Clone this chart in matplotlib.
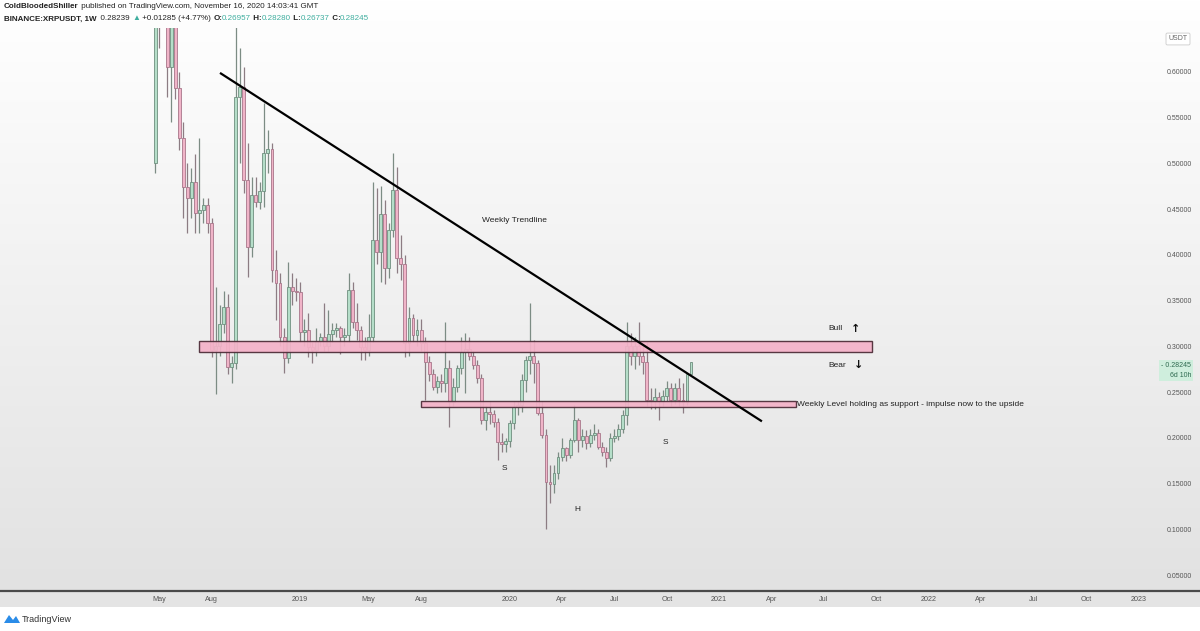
import numpy as np
import matplotlib
matplotlib.use("Agg")
import matplotlib.pyplot as plt
import matplotlib.transforms as mtransforms
from matplotlib.patches import Rectangle, Polygon

plt.rcParams['font.family'] = ['Liberation Sans', 'DejaVu Sans']

# weekly XRP/USDT candles, week of 2018-04-30 .. 2020-11-16
opens = [0.50, 0.72, 0.68, 0.67, 0.605, 0.66, 0.583, 0.528, 0.474, 0.462,
         0.48, 0.446, 0.449, 0.455, 0.435, 0.296, 0.300, 0.324, 0.343, 0.277,
         0.282, 0.573, 0.584, 0.482, 0.409, 0.465, 0.458, 0.470, 0.511, 0.516,
         0.383, 0.369, 0.310, 0.287, 0.365, 0.360, 0.359, 0.316, 0.318, 0.299,
         0.296, 0.306, 0.310, 0.300, 0.314, 0.318, 0.320, 0.310, 0.312, 0.362,
         0.327, 0.318, 0.299, 0.296, 0.310, 0.416, 0.403, 0.445, 0.386, 0.427,
         0.471, 0.397, 0.390, 0.304, 0.331, 0.312, 0.318, 0.304, 0.283, 0.270,
         0.256, 0.262, 0.260, 0.276, 0.239, 0.256, 0.276, 0.294, 0.297, 0.290,
         0.280, 0.265, 0.219, 0.228, 0.226, 0.217, 0.195, 0.193, 0.196, 0.216,
         0.234, 0.236, 0.263, 0.285, 0.290, 0.282, 0.227, 0.203, 0.152, 0.149,
         0.162, 0.179, 0.189, 0.181, 0.198, 0.219, 0.198, 0.202, 0.194, 0.203,
         0.205, 0.190, 0.184, 0.178, 0.200, 0.202, 0.210, 0.225, 0.300, 0.290,
         0.300, 0.290, 0.283, 0.241, 0.240, 0.245, 0.240, 0.246, 0.254, 0.241,
         0.254, 0.241, 0.239, 0.26957]
closes = [0.72, 0.68, 0.67, 0.605, 0.66, 0.583, 0.528, 0.474, 0.462, 0.48,
          0.446, 0.449, 0.455, 0.435, 0.296, 0.300, 0.324, 0.343, 0.277, 0.282,
          0.573, 0.584, 0.482, 0.409, 0.465, 0.458, 0.470, 0.511, 0.516, 0.383,
          0.369, 0.310, 0.287, 0.365, 0.360, 0.359, 0.316, 0.318, 0.299, 0.296,
          0.306, 0.310, 0.300, 0.314, 0.318, 0.320, 0.310, 0.312, 0.362, 0.327,
          0.318, 0.299, 0.296, 0.310, 0.416, 0.403, 0.445, 0.386, 0.427, 0.471,
          0.397, 0.390, 0.304, 0.331, 0.312, 0.318, 0.304, 0.283, 0.270, 0.256,
          0.262, 0.260, 0.276, 0.239, 0.256, 0.276, 0.294, 0.297, 0.290, 0.280,
          0.265, 0.219, 0.228, 0.226, 0.217, 0.195, 0.193, 0.196, 0.216, 0.234,
          0.236, 0.263, 0.285, 0.290, 0.282, 0.227, 0.203, 0.152, 0.149, 0.162,
          0.179, 0.189, 0.181, 0.198, 0.219, 0.198, 0.202, 0.194, 0.203, 0.205,
          0.190, 0.184, 0.178, 0.200, 0.202, 0.210, 0.225, 0.300, 0.290, 0.300,
          0.290, 0.283, 0.241, 0.240, 0.245, 0.240, 0.246, 0.254, 0.241, 0.254,
          0.241, 0.239, 0.26957, 0.28245]
highs = [0.80, 0.78, 0.72, 0.69, 0.68, 0.68, 0.60, 0.545, 0.50, 0.495,
         0.51, 0.528, 0.462, 0.462, 0.44, 0.365, 0.345, 0.36, 0.357, 0.29,
         0.78, 0.626, 0.605, 0.522, 0.485, 0.485, 0.48, 0.566, 0.537, 0.522,
         0.405, 0.38, 0.32, 0.392, 0.38, 0.375, 0.37, 0.33, 0.336, 0.305,
         0.32, 0.315, 0.347, 0.34, 0.325, 0.325, 0.322, 0.32, 0.38, 0.37,
         0.347, 0.322, 0.31, 0.335, 0.48, 0.473, 0.475, 0.46, 0.435, 0.511,
         0.496, 0.422, 0.40, 0.343, 0.335, 0.33, 0.33, 0.31, 0.29, 0.275,
         0.268, 0.27, 0.327, 0.285, 0.265, 0.28, 0.31, 0.315, 0.31, 0.295,
         0.285, 0.27, 0.235, 0.24, 0.23, 0.222, 0.205, 0.20, 0.22, 0.24,
         0.24, 0.27, 0.29, 0.347, 0.307, 0.285, 0.24, 0.21, 0.17, 0.17,
         0.185, 0.20, 0.19, 0.20, 0.236, 0.222, 0.21, 0.208, 0.21, 0.215,
         0.21, 0.195, 0.19, 0.205, 0.21, 0.215, 0.23, 0.327, 0.315, 0.31,
         0.327, 0.30, 0.305, 0.255, 0.255, 0.25, 0.252, 0.262, 0.26, 0.26,
         0.265, 0.26, 0.27, 0.2828]
lows = [0.49, 0.626, 0.655, 0.573, 0.545, 0.57, 0.515, 0.44, 0.424, 0.44,
        0.424, 0.424, 0.435, 0.424, 0.288, 0.248, 0.29, 0.315, 0.27, 0.26,
        0.275, 0.50, 0.468, 0.376, 0.398, 0.452, 0.45, 0.452, 0.49, 0.37,
        0.329, 0.30, 0.271, 0.282, 0.345, 0.35, 0.305, 0.30, 0.288, 0.282,
        0.29, 0.30, 0.295, 0.295, 0.305, 0.31, 0.292, 0.30, 0.305, 0.32,
        0.307, 0.285, 0.285, 0.29, 0.305, 0.39, 0.37, 0.368, 0.375, 0.42,
        0.38, 0.373, 0.288, 0.29, 0.305, 0.30, 0.295, 0.241, 0.262, 0.252,
        0.249, 0.25, 0.25, 0.212, 0.235, 0.25, 0.27, 0.249, 0.285, 0.275,
        0.26, 0.215, 0.208, 0.215, 0.212, 0.176, 0.185, 0.185, 0.19, 0.21,
        0.225, 0.228, 0.25, 0.27, 0.26, 0.225, 0.20, 0.10, 0.129, 0.14,
        0.155, 0.175, 0.175, 0.178, 0.195, 0.185, 0.19, 0.188, 0.19, 0.198,
        0.188, 0.18, 0.168, 0.175, 0.195, 0.198, 0.205, 0.214, 0.28, 0.275,
        0.28, 0.27, 0.235, 0.232, 0.232, 0.219, 0.235, 0.24, 0.235, 0.237,
        0.235, 0.227, 0.236, 0.26737]

# time axis labels (week index from 2018-04-30)
tick_weeks = [1, 14, 36, 53, 66, 88, 101, 114, 127, 140, 153, 166, 179, 192, 205, 218, 231, 244]
tick_labels = ['May', 'Aug', '2019', 'May', 'Aug', '2020', 'Apr', 'Jul', 'Oct', '2021',
               'Apr', 'Jul', 'Oct', '2022', 'Apr', 'Jul', 'Oct', '2023']
price_ticks = [0.05, 0.10, 0.15, 0.20, 0.25, 0.30, 0.35, 0.40, 0.45, 0.50, 0.55, 0.60]

# drawings
trend_x = [16.1, 150.6]
trend_y = [0.599, 0.218]
zone_top = [10.9, 177.9, 0.2938, 0.3058]
zone_low = [66.0, 159.1, 0.2337, 0.2402]
notes = [("Weekly Trendline", 81.1, 0.438),
         ("Weekly Level holding as support - impulse now to the upside", 159.4, 0.2365)]
pattern = [("S", 86.6, 0.166), ("H", 104.7, 0.122), ("S", 126.6, 0.195)]

W, H = 1200, 631
fig = plt.figure(figsize=(12, 6.31), dpi=100)
fig.patch.set_facecolor('white')

# background in pixel coordinates
bg = fig.add_axes([0, 0, 1, 1])
bg.set_xlim(0, W)
bg.set_ylim(H, 0)
bg.axis('off')
grad = np.linspace(0, 1, 256).reshape(-1, 1)
bg.imshow(grad, extent=(0, W, 590, 0), cmap=matplotlib.colors.LinearSegmentedColormap.from_list(
    'g', ['#ffffff', '#e2e2e2']), aspect='auto', zorder=0)
bg.add_patch(Rectangle((0, 590), W, 17, facecolor='#e4e4e4', edgecolor='none', zorder=1))
bg.plot([0, W], [591, 591], color='#4a4a4a', lw=1.6, zorder=2)

# header
def chain(x, y, parts, size=5.8):
    t = bg.text(x, y, parts[0][0], color=parts[0][1], fontweight=parts[0][2],
                fontsize=size, va='center', ha='left', zorder=5)
    for s, c, w in parts[1:]:
        t = bg.annotate(s, xy=(1, 0), xycoords=t, va='bottom', ha='left',
                        color=c, fontweight=w, fontsize=size, zorder=5)

teal = '#3fae9f'
dark = '#222222'
chain(4, 7, [("ColdBloodedShiller", dark, 'bold'),
             (" published on TradingView.com, November 16, 2020 14:03:41 GMT", dark, 'normal')])
chain(4, 19, [("BINANCE:XRPUSDT, 1W", dark, 'bold'),
              ("  0.28239 ", dark, 'normal'), ("▲", teal, 'normal'),
              (" +0.01285 (+4.77%) ", dark, 'normal'),
              ("O:", dark, 'bold'), ("0.26957", teal, 'normal'),
              (" H:", dark, 'bold'), ("0.28280", teal, 'normal'),
              (" L:", dark, 'bold'), ("0.26737", teal, 'normal'),
              (" C:", dark, 'bold'), ("0.28245", teal, 'normal')])

# footer logo
bg.add_patch(Polygon([[4, 623], [9, 615], [13, 620], [16, 616], [20, 623]], closed=True,
                     facecolor='#2a8ce8', edgecolor='none', zorder=5))
bg.text(22, 619, "TradingView", fontsize=6.5, color='#333333', va='center', ha='left')

# USDT box
bg.text(1178, 39, "USDT", fontsize=5, color='#666666', ha='center', va='center',
        bbox=dict(boxstyle='round,pad=0.35,rounding_size=0.2', fc='white', ec='#cccccc', lw=0.6))

# main chart
ax = fig.add_axes([0, 1 - 590 / H, 1158 / W, 562 / H])
ax.set_facecolor('none')
x = np.arange(len(closes))
o = np.array(opens)
c = np.array(closes)
up = c >= o
wick_col = np.where(up, '#7c8c84', '#8c7c83')
ax.vlines(x, lows, highs, colors=wick_col, lw=0.9, zorder=2)
body_lo = np.minimum(o, c)
body_h = np.maximum(np.abs(c - o), 0.0015)
ax.bar(x[up], body_h[up], bottom=body_lo[up], width=0.72, color='#b5dec9',
       edgecolor='#6f8f7f', linewidth=0.6, zorder=3)
ax.bar(x[~up], body_h[~up], bottom=body_lo[~up], width=0.72, color='#f0b4c8',
       edgecolor='#a8768a', linewidth=0.6, zorder=3)

for z in (zone_top, zone_low):
    ax.add_patch(Rectangle((z[0], z[2]), z[1] - z[0], z[3] - z[2], facecolor='#f4b2c8',
                           edgecolor='#4a2a35', lw=1.0, alpha=0.92, zorder=4))

ax.plot(trend_x, trend_y, color='black', lw=1.6, zorder=5, solid_capstyle='butt')

for s, xx, yy in notes:
    ax.text(xx, yy, s, fontsize=6.0, color='#222222', ha='left', va='center', zorder=6)
for s, xx, yy in pattern:
    ax.text(xx, yy, s, fontsize=6.0, color='#222222', ha='center', va='center', zorder=6)
ax.text(167.0, 0.319, "Bull", fontsize=6.0, color='#222222', ha='left', va='center')
ax.text(172.6, 0.3195, "↑", fontsize=8, fontweight='bold', color='#111111', ha='left',
        va='center', family='DejaVu Sans')
ax.text(167.0, 0.2796, "Bear", fontsize=6.0, color='#222222', ha='left', va='center')
ax.text(173.4, 0.2796, "↓", fontsize=8, fontweight='bold', color='#111111', ha='left',
        va='center', family='DejaVu Sans')

ax.set_xlim(-38.5, 248.9)
ax.set_ylim(0.0336, 0.6481)
for sp in ax.spines.values():
    sp.set_visible(False)
ax.yaxis.tick_right()
ax.set_yticks(price_ticks, ['%.5f' % p for p in price_ticks])
ax.set_xticks(tick_weeks, tick_labels)
ax.tick_params(axis='y', length=0, pad=6, labelsize=5, labelcolor='#555555')
ax.tick_params(axis='x', length=0, pad=4.5, labelsize=5.2, labelcolor='#555555')

# last price label
tr = mtransforms.blended_transform_factory(ax.transAxes, ax.transData)
ax.text(1.003, c[-1], "- 0.28245\n6d 10h", transform=tr, fontsize=5, color='#2f6a50',
        ha='left', va='top', multialignment='right', linespacing=1.5,
        bbox=dict(boxstyle='square,pad=0.3', fc='#cfeedd', ec='none'), clip_on=False)

fig.savefig('out.png', dpi=100)
